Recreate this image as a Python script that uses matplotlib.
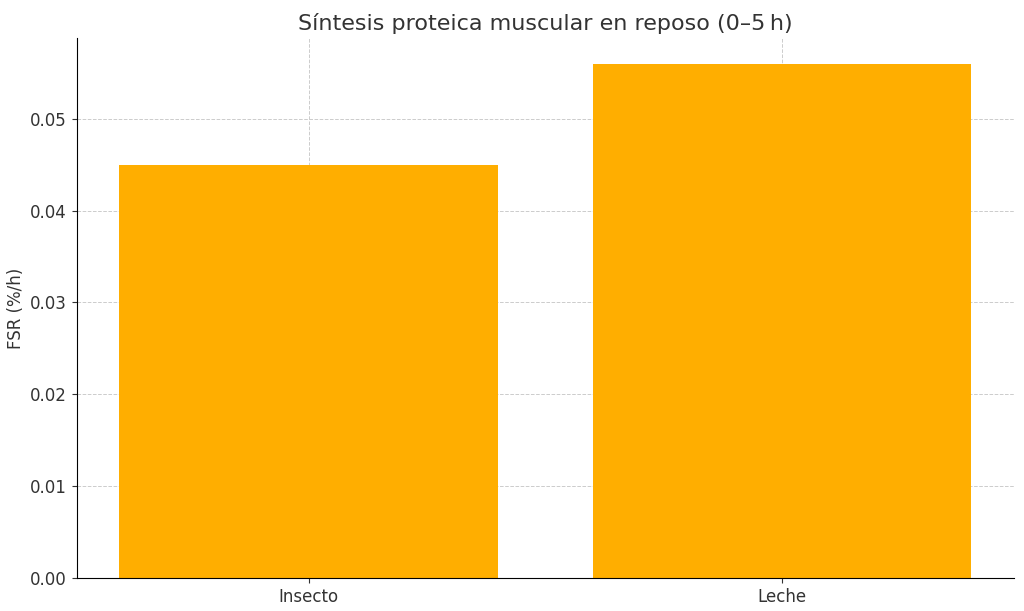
import matplotlib.pyplot as plt

categories = ['Insecto', 'Leche']
fsr_values = [0.045, 0.056]

fig, ax = plt.subplots(figsize=(10.24, 6.11), dpi=100)
ax.bar(categories, fsr_values, color='#FFAE00', width=0.8, zorder=2)

ax.set_title('Síntesis proteica muscular en reposo (0–5\u2009h)', fontsize=16, color='#333333')
ax.set_ylabel('FSR (%/h)', fontsize=12, color='#333333')
ax.tick_params(labelsize=12, colors='#333333')
ax.grid(True, linestyle='--', color='#cccccc', linewidth=0.7, zorder=0)
ax.spines['top'].set_visible(False)
ax.spines['right'].set_visible(False)

fig.subplots_adjust(left=0.075, right=0.99, top=0.938, bottom=0.054)
fig.savefig('out.png', dpi=100)
